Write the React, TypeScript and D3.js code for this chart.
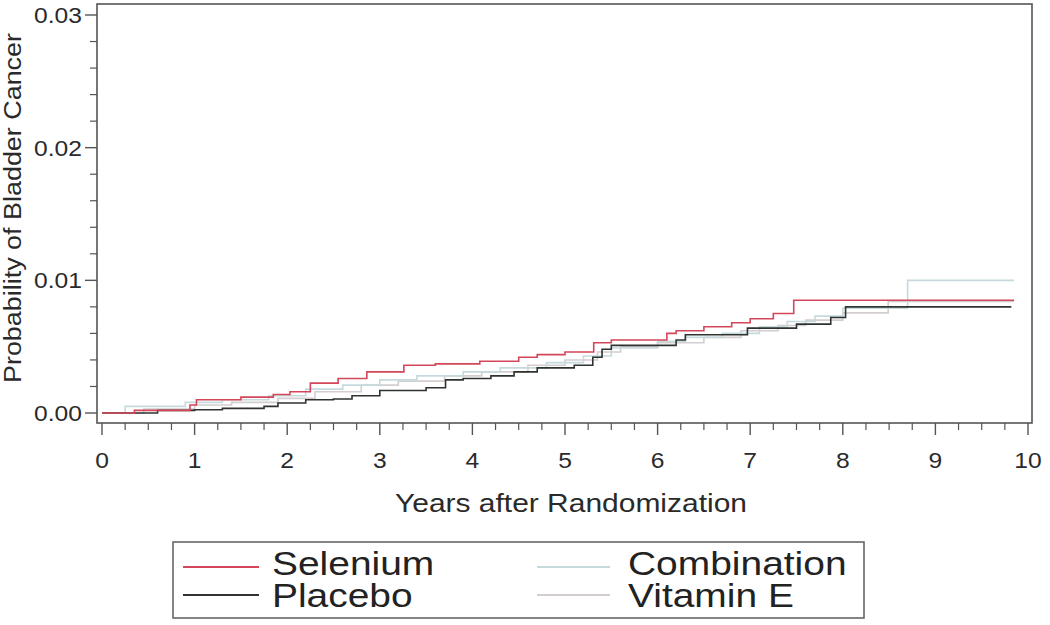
import React from "react";
import * as d3 from "d3";

// ---- data ----
const xTickLabels = ["0", "1", "2", "3", "4", "5", "6", "7", "8", "9", "10"];
const yTickLabels = ["0.00", "0.01", "0.02", "0.03"];

const seleniumT = [0, 0.35, 0.95, 1.02, 1.5, 1.85, 2.03, 2.25, 2.55, 2.86, 3.26, 3.6, 4.08, 4.5, 4.7, 5.0, 5.31, 5.5, 6.1, 6.2, 6.5, 6.8, 7.0, 7.25, 7.47, 9.85];
const seleniumV = [0, 0.0002, 0.0006, 0.001, 0.0012, 0.0014, 0.0016, 0.00225, 0.0026, 0.0031, 0.0036, 0.0037, 0.0039, 0.0042, 0.0044, 0.0046, 0.0053, 0.0055, 0.006, 0.0062, 0.0065, 0.0068, 0.0071, 0.0075, 0.0085, 0.0085];

const placeboT = [0, 0.6, 1.0, 1.3, 1.75, 1.9, 2.2, 2.5, 2.7, 3.0, 3.5, 3.71, 3.9, 4.2, 4.45, 4.7, 5.1, 5.3, 5.4, 5.5, 6.2, 6.3, 6.97, 7.5, 7.87, 8.03, 9.82];
const placeboV = [0, 0.0002, 0.00025, 0.00035, 0.0005, 0.00075, 0.001, 0.00105, 0.0013, 0.0017, 0.0019, 0.0025, 0.0026, 0.0028, 0.0031, 0.0034, 0.0036, 0.0042, 0.0048, 0.0051, 0.0055, 0.0059, 0.0064, 0.0067, 0.0072, 0.008, 0.008];

const combinationT = [0, 0.25, 0.9, 1.3, 1.8, 2.2, 2.6, 3.0, 3.4, 3.9, 4.3, 4.8, 5.2, 5.5, 6.0, 6.3, 6.7, 7.1, 7.4, 7.7, 8.0, 8.7, 9.85];
const combinationV = [0, 0.0005, 0.0008, 0.001, 0.0013, 0.0018, 0.0021, 0.0025, 0.0028, 0.0031, 0.0034, 0.0038, 0.0043, 0.0049, 0.0054, 0.0057, 0.006, 0.0065, 0.0069, 0.0073, 0.0079, 0.01, 0.01];

const vitaminT = [0, 0.45, 1.0, 1.4, 1.9, 2.3, 2.8, 3.2, 3.7, 4.1, 4.6, 5.0, 5.35, 5.6, 6.0, 6.5, 6.9, 7.3, 7.6, 8.0, 8.49, 9.85];
const vitaminV = [0, 0.0003, 0.0006, 0.0008, 0.0011, 0.0016, 0.0021, 0.0024, 0.0028, 0.0031, 0.0036, 0.004, 0.0046, 0.005, 0.0053, 0.0057, 0.0062, 0.0066, 0.007, 0.00755, 0.0084, 0.0084];

const seriesNames = ["Selenium", "Placebo", "Combination", "Vitamin E"];
const seriesColors = ["#d4475a", "#2e3330", "#c6dadd", "#d4cdcf"];

const W = 1050;
const H = 625;
const FONT = "'Liberation Sans', Arial, sans-serif";
const SX = 1.12;
const LSX = 1.18;

export default function App() {
  const x = d3.scaleLinear().domain([0, 10]).range([102, 1028]);
  const y = d3.scaleLinear().domain([0, 0.03]).range([413, 15]);
  const frame = { x0: 97, y0: 4, x1: 1032, y1: 423 };

  const line = d3
    .line<[number, number]>()
    .x((d) => x(d[0]))
    .y((d) => y(d[1]))
    .curve(d3.curveStepAfter);

  const mk = (t: number[], v: number[]) => t.map((ti, i) => [ti, v[i]] as [number, number]);
  const series = [
    { name: "Vitamin E", pts: mk(vitaminT, vitaminV), color: seriesColors[3] },
    { name: "Combination", pts: mk(combinationT, combinationV), color: seriesColors[2] },
    { name: "Placebo", pts: mk(placeboT, placeboV), color: seriesColors[1] },
    { name: "Selenium", pts: mk(seleniumT, seleniumV), color: seriesColors[0] },
  ];

  const xMajor = d3.range(0, 11, 1);
  const xMinor = d3.range(0, 10.001, 0.25).filter((v) => Math.abs(v - Math.round(v)) > 1e-6);
  const yMajor = [0, 0.01, 0.02, 0.03];
  const yMinor = d3.range(0, 0.0301, 0.002).filter((v) => Math.abs(v * 100 - Math.round(v * 100)) > 1e-6);

  const axisColor = "#555";

  const legendRows = [
    { col: 0, row: 0, i: 0 },
    { col: 0, row: 1, i: 1 },
    { col: 1, row: 0, i: 2 },
    { col: 1, row: 1, i: 3 },
  ];
  const legCols = [
    { lx0: 183, lx1: 259, tx: 272 },
    { lx0: 537, lx1: 610, tx: 628 },
  ];
  const legRows = [
    { ly: 567, ty: 575 },
    { ly: 595, ty: 607 },
  ];

  return (
    <svg
      width={W}
      height={H}
      style={{ position: "absolute", left: 0, top: 0, background: "#fff" }}
      fontFamily={FONT}
    >
      <rect x={0} y={0} width={W} height={H} fill="#fff" />
      {/* frame */}
      <rect
        x={frame.x0}
        y={frame.y0}
        width={frame.x1 - frame.x0}
        height={frame.y1 - frame.y0}
        fill="none"
        stroke={axisColor}
        strokeWidth={1.6}
      />
      {/* y ticks */}
      {yMajor.map((v, i) => (
        <g key={"ym" + i}>
          <line x1={frame.x0 - 12} x2={frame.x0} y1={y(v)} y2={y(v)} stroke={axisColor} strokeWidth={1.4} />
          <text
            transform={`translate(${frame.x0 - 15},${y(v) + 8}) scale(${SX},1)`}
            textAnchor="end"
            fontSize={22}
            fill="#2a2a2a"
          >
            {yTickLabels[i]}
          </text>
        </g>
      ))}
      {yMinor.map((v, i) => (
        <line key={"yn" + i} x1={frame.x0 - 7} x2={frame.x0} y1={y(v)} y2={y(v)} stroke={axisColor} strokeWidth={1.2} />
      ))}
      {/* x ticks */}
      {xMajor.map((v, i) => (
        <g key={"xm" + i}>
          <line x1={x(v)} x2={x(v)} y1={frame.y1} y2={frame.y1 + 12} stroke={axisColor} strokeWidth={1.4} />
          <text
            transform={`translate(${x(v)},468) scale(${SX},1)`}
            textAnchor="middle"
            fontSize={22}
            fill="#2a2a2a"
          >
            {xTickLabels[i]}
          </text>
        </g>
      ))}
      {xMinor.map((v, i) => (
        <line key={"xn" + i} x1={x(v)} x2={x(v)} y1={frame.y1} y2={frame.y1 + 7} stroke={axisColor} strokeWidth={1.2} />
      ))}
      {/* axis titles */}
      <text x={571} y={512} textAnchor="middle" fontSize={25.5} fill="#2a2a2a" textLength={352} lengthAdjust="spacingAndGlyphs">
        Years after Randomization
      </text>
      <text
        transform={`translate(21,208) rotate(-90)`}
        textAnchor="middle"
        fontSize={23.5}
        fill="#2a2a2a"
        textLength={350}
        lengthAdjust="spacingAndGlyphs"
      >
        Probability of Bladder Cancer
      </text>
      {/* curves */}
      {series.map((s) => (
        <path key={s.name} d={line(s.pts) || ""} fill="none" stroke={s.color} strokeWidth={1.6} />
      ))}
      {/* legend */}
      <rect x={173} y={542} width={691} height={76} fill="#fff" stroke="#666" strokeWidth={1.6} />
      {legendRows.map((r) => {
        const c = legCols[r.col];
        const rr = legRows[r.row];
        return (
          <g key={"lg" + r.i}>
            <line x1={c.lx0} x2={c.lx1} y1={rr.ly} y2={rr.ly} stroke={seriesColors[r.i]} strokeWidth={1.8} />
            <text transform={`translate(${c.tx},${rr.ty}) scale(${LSX},1)`} fontSize={33} fill="#222">
              {seriesNames[r.i]}
            </text>
          </g>
        );
      })}
    </svg>
  );
}
